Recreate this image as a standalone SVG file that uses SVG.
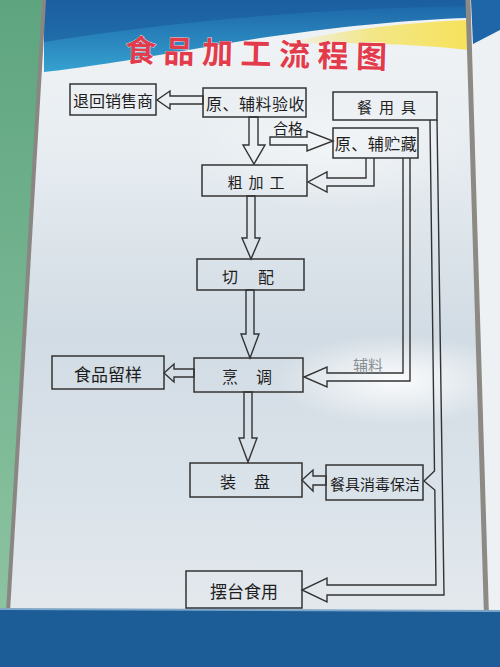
<svg xmlns="http://www.w3.org/2000/svg" width="500" height="667" viewBox="0 0 500 667">
<defs>
<linearGradient id="panel" x1="0" y1="0" x2="0" y2="1">
<stop offset="0" stop-color="#f1f4f6"/>
<stop offset="0.2" stop-color="#e9eef2"/>
<stop offset="0.5" stop-color="#d2dce4"/>
<stop offset="0.75" stop-color="#dbe3ea"/>
<stop offset="1" stop-color="#e7ebee"/>
</linearGradient>
<linearGradient id="green" x1="0" y1="0" x2="0" y2="1">
<stop offset="0" stop-color="#5ea57f"/>
<stop offset="1" stop-color="#8cc3a1"/>
</linearGradient>
<linearGradient id="blue" x1="0" y1="0" x2="0" y2="1">
<stop offset="0" stop-color="#1c63a6"/>
<stop offset="1" stop-color="#35a2d0"/>
</linearGradient>
<linearGradient id="yel" x1="0" y1="0" x2="1" y2="0">
<stop offset="0" stop-color="#f4e36a" stop-opacity="0"/>
<stop offset="0.5" stop-color="#f4e36a" stop-opacity="0.8"/>
<stop offset="1" stop-color="#f6e25c"/>
</linearGradient>
<radialGradient id="glare" cx="0.5" cy="0.5" r="0.5">
<stop offset="0" stop-color="#ffffff" stop-opacity="0.9"/>
<stop offset="1" stop-color="#ffffff" stop-opacity="0"/>
</radialGradient>
<style>
.box{fill:none;stroke:#333;stroke-width:1.5}
.arr{fill:none;stroke:#333;stroke-width:1.4;stroke-linejoin:miter}
.t{font-family:"Noto Sans CJK SC","Noto Sans",sans-serif;fill:#1e1e1e;text-anchor:middle;dominant-baseline:central}
.title{font-family:"Noto Sans CJK SC","Noto Sans",sans-serif;fill:#e23b4b;font-weight:bold;font-size:31px;letter-spacing:7.5px;stroke:#fff;stroke-width:0.6;paint-order:stroke}
</style>
</defs>

<!-- background sign -->
<rect x="0" y="0" width="500" height="667" fill="url(#panel)"/>
<ellipse cx="395" cy="380" rx="120" ry="45" fill="url(#glare)"/>
<ellipse cx="330" cy="150" rx="140" ry="60" fill="url(#glare)" opacity="0.5"/>
<path d="M44,0 L468,0 L468,18 C400,20 300,30 200,48 C120,62 80,68 44,72 Z" fill="url(#blue)"/>
<path d="M44,0 L468,0 L468,6 C330,8 180,20 44,42 Z" fill="#1b5b9c" opacity="0.6"/>
<path d="M280,44 C340,30 410,22 468,20 L468,50 C420,44 350,42 280,44 Z" fill="url(#yel)"/>
<polygon points="0,0 43,0 7,612 0,612" fill="url(#green)"/>
<line x1="44" y1="0" x2="8" y2="612" stroke="#8a8682" stroke-width="4"/>
<polygon points="470,0 500,0 500,667 488,667" fill="#eef1f3"/>
<polygon points="471,0 500,0 500,30 473,44" fill="#1e66a8"/>
<line x1="468" y1="0" x2="488" y2="667" stroke="#8d8984" stroke-width="5"/>
<polygon points="0,609 487,611 500,611 500,667 0,667" fill="#1c5c97"/>
<line x1="0" y1="609" x2="500" y2="611" stroke="#7ea6c9" stroke-width="2"/>

<!-- title -->
<text class="title" x="125" y="65" transform="rotate(1.5 256 53)">食品加工流程图</text>

<!-- connectors -->
<g id="connectors">
<polygon class="arr" points="203,96 170,96 170,91 157,100 170,109 170,104 203,104"/>
<polygon class="arr" points="249,117 249,145 243,145 254,164 265,145 258,145 258,117"/>
<polygon class="arr" points="270,137 307,137 307,131 333,141 307,151 307,145 270,145"/>
<polyline class="arr" points="366,158 366,178 327,178 327,172 308,182 327,192 327,186 374,186 374,158"/>
<polygon class="arr" points="247,196 247,238 242,238 251,259 260,238 255,238 255,196"/>
<polygon class="arr" points="246,290 246,334 241,334 250,358 259,334 254,334 254,290"/>
<polyline class="arr" points="403,158 403,373 327,373 327,367 304,377 327,387 327,381 410,381 410,158"/>
<polygon class="arr" points="194,369 174,369 174,364 164,373 174,382 174,377 194,377"/>
<polygon class="arr" points="244,392 244,438 239,438 248,462 257,438 252,438 252,392"/>
<polygon class="arr" points="326,476 313,476 313,470 302,480 313,491 313,485 326,485"/>
<polyline class="arr" points="430,120 434.5,471 424,481 434.8,490 436,585 327,585 327,578 302,590 327,602 327,595 444,595 437,120"/>
<text class="t" x="288" y="127" font-size="15">合格</text>
<text class="t" x="368" y="364" font-size="15" style="fill:#8a8f94">辅料</text>
</g>

<!-- nodes -->
<g id="n-tuihui"><rect class="box" x="70" y="84" width="86" height="31"/><text class="t" x="113" y="100" font-size="16">退回销售商</text></g>
<g id="n-yanshou"><rect class="box" x="203" y="88" width="103" height="29"/><text class="t" x="255.5" y="103" font-size="16" letter-spacing="0.5">原、辅料验收</text></g>
<g id="n-canyongju"><rect class="box" x="333" y="92" width="104" height="28"/><text class="t" x="390" y="106" font-size="15" letter-spacing="7">餐用具</text></g>
<g id="n-zhucang"><rect class="box" x="333" y="128" width="85" height="30"/><text class="t" x="376" y="143" font-size="16" letter-spacing="0.5">原、辅贮藏</text></g>
<g id="n-cujiagong"><rect class="box" x="202" y="165" width="105" height="31"/><text class="t" x="259" y="181" font-size="15" letter-spacing="6">粗加工</text></g>
<g id="n-qiepei"><rect class="box" x="197" y="259" width="107" height="31"/><text class="t" x="258" y="276" font-size="16" letter-spacing="20">切配</text></g>
<g id="n-pengtiao"><rect class="box" x="194" y="358" width="109" height="34"/><text class="t" x="256" y="376" font-size="16" letter-spacing="18">烹调</text></g>
<g id="n-liuyang"><rect class="box" x="52" y="356" width="112" height="33"/><text class="t" x="108" y="373" font-size="17">食品留样</text></g>
<g id="n-zhuangpan"><rect class="box" x="190" y="463" width="112" height="34"/><text class="t" x="254" y="481" font-size="16" letter-spacing="18">装盘</text></g>
<g id="n-xiaodu"><rect class="box" x="326" y="465" width="97" height="35"/><text class="t" x="375" y="483" font-size="15">餐具消毒保洁</text></g>
<g id="n-baitai"><rect class="box" x="186" y="571" width="116" height="37"/><text class="t" x="244" y="590" font-size="17">摆台食用</text></g>
</svg>
